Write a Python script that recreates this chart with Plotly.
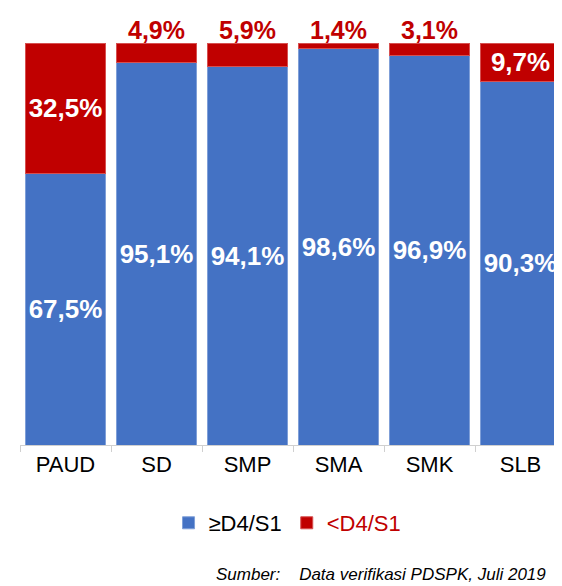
import plotly.graph_objects as go

categories = ["PAUD", "SD", "SMP", "SMA", "SMK", "SLB"]
qualified = [67.5, 95.1, 94.1, 98.6, 96.9, 90.3]      # >=D4/S1
unqualified = [32.5, 4.9, 5.9, 1.4, 3.1, 9.7]         # <D4/S1

BLUE = "#4472C4"
RED = "#C00000"
FONT = "Liberation Sans, Arial, sans-serif"


def pct(v):
    return f"{v:.1f}".replace(".", ",") + "%"


fig = go.Figure()
fig.add_trace(go.Bar(
    x=categories, y=qualified, name="≥D4/S1",
    marker=dict(color=BLUE, line=dict(color="#7f9fd8", width=1)),
    text=[pct(v) for v in qualified], textposition="inside",
    insidetextanchor="middle", textangle=0,
    textfont=dict(color="white", size=26, family=FONT),
    texttemplate="<b>%{text}</b>",
))
fig.add_trace(go.Bar(
    x=categories, y=unqualified, name=f"<span style='color:{RED}'>&lt;D4/S1</span>",
    marker=dict(color=RED, line=dict(color="#d65050", width=1)),
    text=[pct(v) if v >= 8 else "" for v in unqualified], textposition="inside",
    insidetextanchor="middle", textangle=0,
    textfont=dict(color="white", size=26, family=FONT),
    texttemplate="<b>%{text}</b>",
))

# small red segments get their label above the bar
for c, v in zip(categories, unqualified):
    if v < 8:
        fig.add_annotation(
            x=c, y=100, text=f"<b>{pct(v)}</b>", showarrow=False,
            yanchor="bottom", yshift=-3,
            font=dict(color=RED, size=25, family=FONT),
        )

fig.add_annotation(
    xref="paper", yref="paper", x=0.355, y=-0.323, showarrow=False,
    text="<i>Sumber:&nbsp;&nbsp;&nbsp;&nbsp;Data verifikasi PDSPK, Juli 2019</i>",
    xanchor="left", yanchor="middle",
    font=dict(size=17, color="black", family=FONT),
)

fig.update_layout(
    width=562, height=586,
    barmode="stack", bargap=0.12,
    plot_bgcolor="white", paper_bgcolor="white",
    margin=dict(l=12, r=4, t=35, b=149, autoexpand=False),
    font=dict(family=FONT, size=22, color="black"),
    xaxis=dict(
        showline=True, linecolor="#d0d0d0", linewidth=1,
        ticks="outside", tickson="boundaries", ticklen=6, tickcolor="#d0d0d0",
        tickfont=dict(size=22, color="black"),
        range=[-0.5, 5.5], automargin=False,
    ),
    yaxis=dict(visible=False, range=[0, 100]),
    showlegend=True,
    legend=dict(
        orientation="h", x=0.49, xanchor="center", y=-0.194, yanchor="middle",
        traceorder="normal", font=dict(size=22), itemwidth=30,
    ),
    uniformtext=dict(mode="show", minsize=26),
)

fig.write_html("out.html")
